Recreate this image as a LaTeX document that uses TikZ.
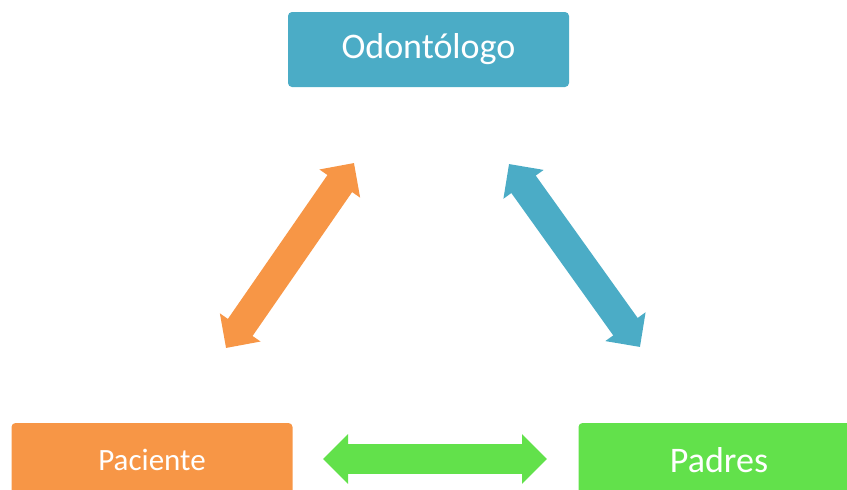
\documentclass[tikz,border=0pt]{standalone}
\usepackage{fontspec}
\setmainfont{Carlito}
\usetikzlibrary{arrows.meta}
\definecolor{azul}{HTML}{4BACC6}
\definecolor{naranja}{HTML}{F79646}
\definecolor{verde}{HTML}{62E14B}
\begin{document}
\begin{tikzpicture}[x=1pt, y=-1pt, box node/.style={rectangle,rounded corners=4pt,text=white,minimum width=281pt,minimum height=75pt,inner sep=0pt},big arrow/.style={line width=30pt,{Triangle[length=25pt,width=48pt]}-{Triangle[length=25pt,width=48pt]}}]
\useasboundingbox (0,0) rectangle (847,490);
\node[box node,fill=azul,font=\fontsize{36}{40}\selectfont] (odo) at (428.5,49.5) {Odontólogo};
\node[box node,fill=naranja,minimum height=74pt,font=\fontsize{31}{36}\selectfont] (pac) at (152,460) {Paciente};
\node[box node,fill=verde,minimum height=74pt,font=\fontsize{36}{40}\selectfont] (pad) at (719,460) {Padres};
\coordinate (a1) at (226,348);
\coordinate (a2) at (354,163);
\coordinate (b1) at (509,164);
\coordinate (b2) at (640,347);
\coordinate (c1) at (323,459);
\coordinate (c2) at (547,459);
\draw[big arrow,naranja] (a1) -- (a2);
\draw[big arrow,azul] (b1) -- (b2);
\draw[big arrow,verde] (c1) -- (c2);
\end{tikzpicture}
\end{document}
